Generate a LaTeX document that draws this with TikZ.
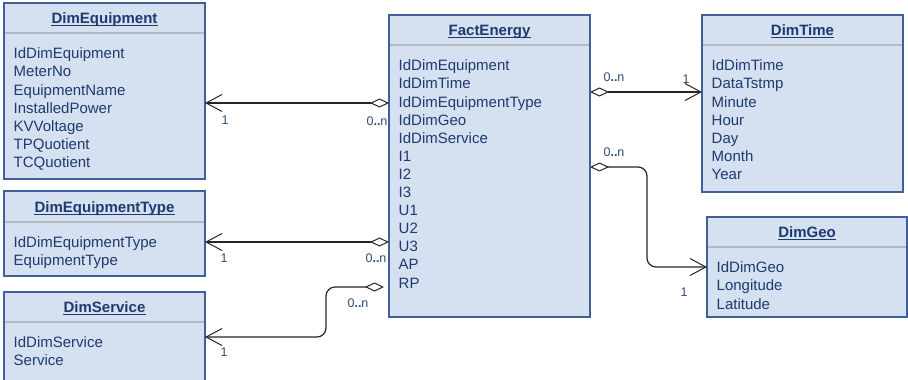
\documentclass[tikz,border=0pt]{standalone}
\usepackage{fontspec}
\setmainfont{Liberation Sans}
\usetikzlibrary{arrows.meta}

\definecolor{boxfill}{HTML}{D5E0F0}
\definecolor{boxline}{HTML}{41609A}
\definecolor{txt}{HTML}{1E3A6E}
\definecolor{lbl}{HTML}{2E4C80}
\definecolor{sepgray}{HTML}{B4B8C0}
\definecolor{linecol}{HTML}{262626}

% \umlclass{name}{x1}{y1}{x2}{y2}{separator y}{title}{attributes}
\newcommand\umlclass[8]{%
  \node[cls, minimum width={#4-#2}, minimum height={#5-#3}] (#1) at (#2,#3) {};
  \draw[sepline] (#1.west |- 0,#6) -- (#1.east |- 0,#6);
  \node[clstitle] (#1-title) at ({(#2+#4)/2},{(#3+#6)/2+5.5}) {#7};
  \draw[draw=txt, line width=1.1pt]
    ([yshift=-2.2pt]#1-title.base west) -- ([yshift=-2.2pt]#1-title.base east);
  \foreach \t [count=\i] in {#8}
    \node[attr] (#1-\i) at ({#2+9.5},{#6+25.8+18.1*(\i-1)}) {\t};
}

\begin{document}
\begin{tikzpicture}[x=1pt,y=-1pt,
  cls/.style={draw=boxline, fill=boxfill, line width=1.4pt, inner sep=0pt,
    outer sep=0pt, anchor=north west},
  clstitle/.style={anchor=base, inner sep=0pt, text=txt,
    font=\fontsize{15}{18}\selectfont\bfseries},
  attr/.style={anchor=base west, inner sep=0pt, text=txt,
    font=\fontsize{15}{18}\selectfont},
  mult/.style={inner sep=0pt, text=lbl, font=\fontsize{12.5}{14}\selectfont},
  sepline/.style={draw=sepgray, line width=1.8pt, shorten <=0.8pt, shorten >=0.8pt},
  assoc/.style={draw=linecol, line width=1.2pt, rounded corners=9pt,
    arrows={Diamond[fill=white, length=19pt, width=9pt, line width=1pt]-Straight Barb[length=16pt, width=17pt, line width=1pt]}}
]
\fill[white] (0,0) rectangle (908,380);
\useasboundingbox (0,0) rectangle (908,380);

% classes
\umlclass{dimequip}{4}{3}{205}{179}{33}{DimEquipment}
  {IdDimEquipment, MeterNo, EquipmentName, InstalledPower, KVVoltage, TPQuotient, TCQuotient}
\umlclass{dimtype}{4}{191}{205}{276}{222}{DimEquipmentType}
  {IdDimEquipmentType, EquipmentType}
\umlclass{dimservice}{4}{292}{205}{386}{322}{DimService}
  {IdDimService, Service}
\umlclass{fact}{389}{15}{590}{317}{45}{FactEnergy}
  {IdDimEquipment, IdDimTime, IdDimEquipmentType, IdDimGeo, IdDimService, I1, I2, I3, U1, U2, U3, AP, RP}
\umlclass{dimtime}{702}{15}{903}{192}{45}{DimTime}
  {IdDimTime, DataTstmp, Minute, Hour, Day, Month, Year}
\umlclass{dimgeo}{707}{217}{907}{317}{247}{DimGeo}
  {IdDimGeo, Longitude, Latitude}

% associations
\draw[assoc] (fact.west |- 0,103) -- (dimequip.east |- 0,103);
\draw[assoc] (fact.west |- 0,242) -- (dimtype.east |- 0,242);
\draw[assoc] ([xshift=-5pt]fact.west |- 0,287) -- (326,287) -- (326,337)
  -- (dimservice.east |- 0,337);
\draw[assoc] (fact.east |- 0,92) -- (dimtime.west |- 0,92);
\draw[assoc] (fact.east |- 0,167) -- (647,167) -- (647,267)
  -- (dimgeo.west |- 0,267);

% multiplicities
\node[mult] (m-equip-n) at (377,121) {0\textbf{..}n};
\node[mult] (m-equip-1) at (225,120) {1};
\node[mult] (m-type-n) at (376,258) {0\textbf{..}n};
\node[mult] (m-type-1) at (224,258) {1};
\node[mult] (m-serv-n) at (358,303) {0\textbf{..}n};
\node[mult] (m-serv-1) at (224,352) {1};
\node[mult] (m-time-n) at (614,77) {0\textbf{..}n};
\node[mult] (m-time-1) at (686,79) {1};
\node[mult] (m-geo-n) at (614,152) {0\textbf{..}n};
\node[mult] (m-geo-1) at (684,292) {1};
\end{tikzpicture}
\end{document}
